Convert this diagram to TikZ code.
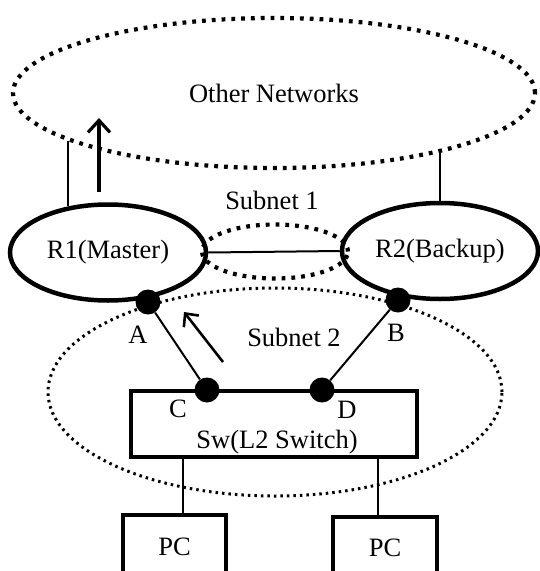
\documentclass[tikz,border=0pt]{standalone}
\usepackage{fontspec}
\setmainfont{Liberation Serif}
\usetikzlibrary{shapes.geometric,arrows.meta}
\begin{document}
\begin{tikzpicture}[x=1pt,y=-1pt,
  every node/.style={font=\fontsize{26.5}{30}\selectfont, inner sep=0pt},
  bigdots/.style={line width=4.2pt, dash pattern=on 3.8pt off 6pt},
  smalldots/.style={line width=3pt, dash pattern=on 2.5pt off 4pt},
  router/.style={ellipse, draw, line width=4.5pt, minimum width=196pt, minimum height=96pt},
  port/.style={circle, fill, minimum size=25pt},
  box/.style={rectangle, draw, line width=4.5pt},
  wire/.style={line width=2pt},
  flow/.style={line width=3.2pt, -{Straight Barb[length=12pt,width=22pt]}},
  flowb/.style={line width=2.6pt, -{Straight Barb[length=10pt,width=19pt]}}
]
\useasboundingbox (0,0) rectangle (540,571);
\clip (0,0) rectangle (540,571);

% Other networks
\node[ellipse, draw, bigdots, minimum width=522pt, minimum height=150pt] (ON) at (274,93) {Other Networks};

% routers
\node[router] (R1) at (108,252.5) {R1(Master)};
\node[router] (R2) at (440,251) {R2(Backup)};

% subnet 1
\node[ellipse, draw, bigdots, minimum width=146pt, minimum height=54pt] (S1) at (275,251.5) {};
\node (S1t) at (272,200) {Subnet 1};
\draw[wire] (R1.east) -- (R2.west);

% subnet 2
\node[ellipse, draw, smalldots, minimum width=454pt, minimum height=208pt] (S2) at (275,392) {};
\node (S2t) at (294,337) {Subnet 2};

% uplinks
\coordinate (u1) at (68,141);
\coordinate (u2) at (439,153);
\draw[wire] (R1.131) -- (R1.131 |- u1);
\draw[wire] (R2.north) -- (R2.north |- u2);

% switch and PCs
\node[box, minimum width=286pt, minimum height=66pt] (SW) at (274,424) {};
\node (SWt) at (277,442) {Sw(L2 Switch)};
\node[box, minimum width=103pt, minimum height=64pt] (PC1) at (174.5,547) {PC};
\node[box, minimum width=104pt, minimum height=62pt] (PC2) at (385,548) {PC};
\draw[wire] (SW.south -| 183,0) -- (PC1.north -| 183,0);
\draw[wire] (SW.south -| 378,0) -- (PC2.north -| 378,0);

% ports
\node[port] (dA) at (148,302) {};
\node[port] (dB) at (398,300) {};
\node[port] (dC) at (207,390) {};
\node[port] (dD) at (322,390) {};
\node (lA) at (138,335) {A};
\node (lB) at (396,333) {B};
\node (lC) at (178,409) {C};
\node (lD) at (347,410) {D};
\draw[wire] (dA) -- (dC);
\draw[wire] (dB) -- (dD);

% traffic arrows
\coordinate (a1s) at (99,192);
\coordinate (a1e) at (99,118);
\draw[flow] (a1s) -- (a1e);
\coordinate (a2s) at (223,362);
\coordinate (a2e) at (184,312);
\draw[flowb] (a2s) -- (a2e);
\end{tikzpicture}
\end{document}
